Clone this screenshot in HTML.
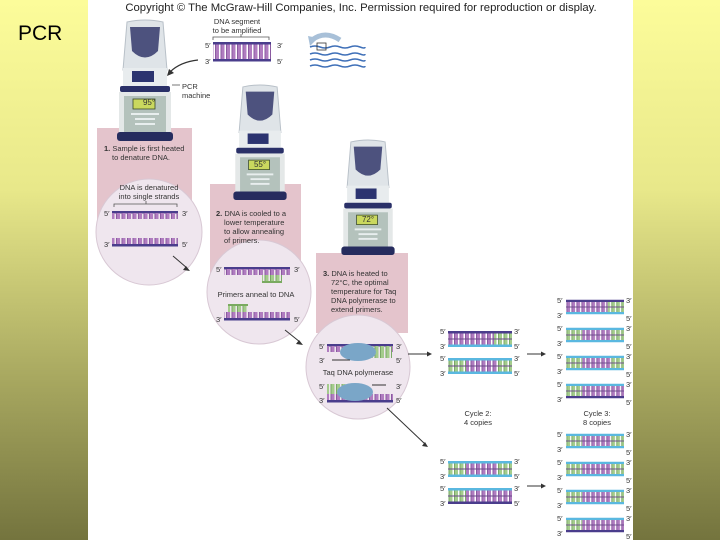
<!DOCTYPE html>
<html><head><meta charset="utf-8"><style>
html,body{margin:0;padding:0;}
body{width:720px;height:540px;overflow:hidden;background:linear-gradient(#fcfc9a 0%,#e8e88a 35%,#a8a860 70%,#74743e 100%);font-family:"Liberation Sans",sans-serif;position:relative;}
#pcr{position:absolute;left:18px;top:22px;font-size:21px;color:#000;}
svg{position:absolute;left:0;top:0;}
text{font-family:"Liberation Sans",sans-serif;}
</style></head><body>
<div id="pcr">PCR</div>
<svg width="720" height="540" viewBox="0 0 720 540">
<defs>
<pattern id="rp" width="5.5" height="20" patternUnits="userSpaceOnUse"><rect x="0.5" y="0" width="4" height="20" fill="#b07cc0"/><rect x="0.5" y="0" width="1" height="20" fill="#8a5aa0"/></pattern>
<pattern id="rg" width="5.5" height="20" patternUnits="userSpaceOnUse"><rect x="0.5" y="0" width="4" height="20" fill="#a4cc8c"/><rect x="0.5" y="0" width="1" height="20" fill="#7aa866"/></pattern>
<symbol id="dupA" viewBox="0 0 64 16" overflow="visible">
<rect x="0" y="2" width="46" height="12" fill="url(#rp)"/><rect x="46" y="2" width="18" height="12" fill="url(#rg)"/>
<rect x="0" y="7.5" width="64" height="1" fill="#6a4a8a"/>
<rect x="0" y="0" width="64" height="2.5" fill="#4a3d8c"/><rect x="0" y="13.5" width="64" height="2.5" fill="#5ab8e0"/>
</symbol>
<symbol id="dupB" viewBox="0 0 64 16" overflow="visible">
<rect x="0" y="2" width="18" height="12" fill="url(#rg)"/><rect x="18" y="2" width="32" height="12" fill="url(#rp)"/><rect x="50" y="2" width="14" height="12" fill="url(#rg)"/>
<rect x="0" y="7.5" width="64" height="1" fill="#6a4a8a"/>
<rect x="0" y="0" width="64" height="2.5" fill="#5ab8e0"/><rect x="0" y="13.5" width="64" height="2.5" fill="#5ab8e0"/>
</symbol>
<symbol id="dupC" viewBox="0 0 64 16" overflow="visible">
<rect x="0" y="2" width="18" height="12" fill="url(#rg)"/><rect x="18" y="2" width="46" height="12" fill="url(#rp)"/>
<rect x="0" y="7.5" width="64" height="1" fill="#6a4a8a"/>
<rect x="0" y="0" width="64" height="2.5" fill="#5ab8e0"/><rect x="0" y="13.5" width="64" height="2.5" fill="#4a3d8c"/>
</symbol>
<symbol id="mach" viewBox="0 0 56 122" overflow="visible">
<path d="M10 2 Q28 -2 46 2 L50 50 L6 50 Z" fill="#dfe4e8" stroke="#b8c0c8" stroke-width="1"/>
<path d="M13 7 L43 7 L41 31 Q28 44 15 31 Z" fill="#4d527e"/>
<rect x="6" y="48" width="44" height="18" fill="#e8ecee"/>
<rect x="15" y="51" width="22" height="11" fill="#2c3470"/>
<rect x="3" y="66" width="50" height="6" rx="2" fill="#2a3068"/>
<rect x="2" y="72" width="52" height="42" fill="#e4e8e8"/>
<rect x="7" y="76" width="42" height="36" fill="#b4c2bc"/>
<rect x="16" y="79" width="22" height="10" fill="#cad85e" stroke="#3a4a2a" stroke-width="0.8"/>
<rect x="14" y="93" width="28" height="2" fill="#e8eeee"/><rect x="18" y="98" width="20" height="2" fill="#e8eeee"/><rect x="18" y="103" width="20" height="2" fill="#e8eeee"/>
<rect x="0" y="112" width="56" height="9" rx="3" fill="#262c5e"/>
</symbol>
</defs>
<rect x="88" y="0" width="545" height="540" fill="#fff"/>
<text x="361" y="11" font-size="11.3" text-anchor="middle" fill="#222">Copyright © The McGraw-Hill Companies, Inc. Permission required for reproduction or display.</text>
<rect x="97" y="128" width="95" height="110" fill="#e4c4cc"/>
<rect x="210" y="184" width="91" height="100" fill="#e4c4cc"/>
<rect x="316" y="253" width="92" height="80" fill="#e4c4cc"/>
<circle cx="149" cy="232" r="53" fill="#efe6ee" stroke="#d8c8d4"/>
<circle cx="259" cy="292" r="52" fill="#efe6ee" stroke="#d8c8d4"/>
<circle cx="358" cy="367" r="52" fill="#efe6ee" stroke="#d8c8d4"/>
<use href="#mach" x="117" y="20" width="56" height="122"/>
<use href="#mach" x="232" y="85" width="56" height="116"/>
<use href="#mach" x="340" y="140" width="56" height="116"/>
<text x="149" y="105" font-size="8" text-anchor="middle" fill="#333">95°</text>
<text x="260" y="167" font-size="8" text-anchor="middle" fill="#333">55°</text>
<text x="368" y="222" font-size="8" text-anchor="middle" fill="#333">72°</text>
<text x="237" y="24" font-size="7.5" text-anchor="middle" fill="#333">DNA segment</text>
<text x="237" y="33" font-size="7.5" text-anchor="middle" fill="#333">to be amplified</text>
<path d="M213 40 V37 H269 V40 M241 37 V34" stroke="#555" fill="none" stroke-width="0.8"/>
<rect x="213" y="43" width="58" height="18" fill="url(#rp)"/>
<rect x="213" y="42" width="58" height="2.5" fill="#4a3d8c"/><rect x="213" y="59" width="58" height="2.5" fill="#4a3d8c"/>
<text x="205" y="48" font-size="7.5" fill="#333">5′</text><text x="277" y="48" font-size="7.5" fill="#333">3′</text>
<text x="205" y="64" font-size="7.5" fill="#333">3′</text><text x="277" y="64" font-size="7.5" fill="#333">5′</text>
<path d="M340 40 Q325 30 312 40" stroke="#a8c0d8" stroke-width="5" fill="none"/>
<path d="M310 46 l-2 -10 l10 2 z" fill="#a8c0d8"/>
<g stroke="#3f70b8" stroke-width="1.5" fill="none">
<path d="M310 47 q5 -2 10 0 t10 0 t10 0 t10 0 t10 0 t5 0"/>
<path d="M310 54 q5 -2 10 0 t10 0 t10 0 t10 0 t10 0 t5 0"/>
<path d="M310 60 q5 -2 10 0 t10 0 t10 0 t10 0 t10 0 t5 0"/>
<path d="M310 66 q5 -2 10 0 t10 0 t10 0 t10 0 t10 0 t5 0"/>
</g>
<rect x="317" y="43" width="9" height="7" fill="none" stroke="#333" stroke-width="0.8"/>
<path d="M198 60 Q180 62 170 72" stroke="#333" stroke-width="1.2" fill="none"/><path d="M167 76 l2 -7 l5 4 z" fill="#333"/>
<line x1="172" y1="85" x2="180" y2="85" stroke="#555" stroke-width="0.8"/>
<text x="182" y="89" font-size="7.5" fill="#333">PCR</text><text x="182" y="98" font-size="7.5" fill="#333">machine</text>
<g font-size="7.5" fill="#333">
<text x="104" y="151"><tspan font-weight="bold">1.</tspan> Sample is first heated</text><text x="112" y="160">to denature DNA.</text>
<text x="216" y="216"><tspan font-weight="bold">2.</tspan> DNA is cooled to a</text><text x="224" y="225">lower temperature</text><text x="224" y="234">to allow annealing</text><text x="224" y="243">of primers.</text>
<text x="323" y="276"><tspan font-weight="bold">3.</tspan> DNA is heated to</text><text x="331" y="285">72°C, the optimal</text><text x="331" y="294">temperature for Taq</text><text x="331" y="303">DNA polymerase to</text><text x="331" y="312">extend primers.</text>
</g>
<text x="149" y="190" font-size="7.5" text-anchor="middle" fill="#333">DNA is denatured</text>
<text x="149" y="199" font-size="7.5" text-anchor="middle" fill="#333">into single strands</text>
<path d="M114 207 V204 H177 V207 M146 204 V201" stroke="#555" fill="none" stroke-width="0.8"/>
<rect x="112" y="211" width="66" height="2.5" fill="#4a3d8c"/><rect x="112" y="213" width="66" height="6" fill="url(#rp)"/>
<rect x="112" y="238" width="66" height="6" fill="url(#rp)"/><rect x="112" y="244" width="66" height="2.5" fill="#4a3d8c"/>
<g font-size="7.5" fill="#333"><text x="104" y="216">5′</text><text x="182" y="216">3′</text><text x="104" y="247">3′</text><text x="182" y="247">5′</text></g>
<line x1="173" y1="256" x2="187" y2="268" stroke="#333" stroke-width="1"/><path d="M190 271 l-7 -1 l3 -4 z" fill="#333"/>
<rect x="224" y="267" width="66" height="2.5" fill="#4a3d8c"/><rect x="224" y="269" width="66" height="6" fill="url(#rp)"/>
<rect x="262" y="275" width="20" height="6" fill="url(#rg)"/><rect x="262" y="281" width="20" height="2" fill="#7aaa60"/>
<text x="256" y="297" font-size="7.5" text-anchor="middle" fill="#333">Primers anneal to DNA</text>
<rect x="228" y="304" width="20" height="2" fill="#7aaa60"/><rect x="228" y="306" width="20" height="6" fill="url(#rg)"/>
<rect x="224" y="312" width="66" height="6" fill="url(#rp)"/><rect x="224" y="318" width="66" height="2.5" fill="#4a3d8c"/>
<g font-size="7.5" fill="#333"><text x="216" y="272">5′</text><text x="294" y="272">3′</text><text x="216" y="322">3′</text><text x="294" y="322">5′</text></g>
<line x1="285" y1="330" x2="300" y2="342" stroke="#333" stroke-width="1"/><path d="M303 345 l-7 -1 l3 -4 z" fill="#333"/>
<rect x="327" y="344" width="66" height="2.5" fill="#4a3d8c"/><rect x="327" y="346" width="66" height="6" fill="url(#rp)"/><rect x="370" y="346" width="22" height="12" fill="url(#rg)"/>
<ellipse cx="358" cy="352" rx="18" ry="9" fill="#7aa6c8"/>
<line x1="350" y1="360" x2="332" y2="360" stroke="#333" stroke-width="1"/>
<text x="358" y="375" font-size="7.5" text-anchor="middle" fill="#333">Taq DNA polymerase</text>
<rect x="327" y="384" width="22" height="10" fill="url(#rg)"/><rect x="327" y="394" width="66" height="6" fill="url(#rp)"/><rect x="327" y="400" width="66" height="2.5" fill="#4a3d8c"/>
<ellipse cx="355" cy="392" rx="18" ry="9" fill="#7aa6c8"/>
<line x1="372" y1="385" x2="386" y2="385" stroke="#333" stroke-width="1"/>
<g font-size="7.5" fill="#333"><text x="319" y="349">5′</text><text x="396" y="349">3′</text><text x="319" y="363">3′</text><text x="396" y="363">5′</text><text x="319" y="389">5′</text><text x="396" y="389">3′</text><text x="319" y="403">3′</text><text x="396" y="403">5′</text></g>
<g stroke="#333" stroke-width="1"><line x1="408" y1="354" x2="428" y2="354"/><line x1="527" y1="354" x2="542" y2="354"/><line x1="387" y1="408" x2="425" y2="444"/><line x1="527" y1="486" x2="542" y2="486"/></g>
<g fill="#333"><path d="M432 354 l-5 -2.5 v5 z"/><path d="M546 354 l-5 -2.5 v5 z"/><path d="M428 447 l-6 -1 l3 -4 z"/><path d="M546 486 l-5 -2.5 v5 z"/></g>
<use href="#dupA" x="448" y="331" width="64" height="16"/>
<use href="#dupB" x="448" y="358" width="64" height="16"/>
<use href="#dupB" x="448" y="461" width="64" height="16"/>
<use href="#dupC" x="448" y="488" width="64" height="16"/>
<g font-size="7.5" fill="#333">
<text x="440" y="334">5′</text><text x="514" y="334">3′</text><text x="440" y="349">3′</text><text x="514" y="349">5′</text>
<text x="440" y="361">5′</text><text x="514" y="361">3′</text><text x="440" y="376">3′</text><text x="514" y="376">5′</text>
<text x="440" y="464">5′</text><text x="514" y="464">3′</text><text x="440" y="479">3′</text><text x="514" y="479">5′</text>
<text x="440" y="491">5′</text><text x="514" y="491">3′</text><text x="440" y="506">3′</text><text x="514" y="506">5′</text>
</g>
<text x="478" y="416" font-size="7.5" text-anchor="middle" fill="#333">Cycle 2:</text><text x="478" y="425" font-size="7.5" text-anchor="middle" fill="#333">4 copies</text>
<text x="597" y="416" font-size="7.5" text-anchor="middle" fill="#333">Cycle 3:</text><text x="597" y="425" font-size="7.5" text-anchor="middle" fill="#333">8 copies</text>
<use href="#dupA" x="566" y="299" width="58" height="16"/>
<use href="#dupB" x="566" y="327" width="58" height="16"/>
<use href="#dupB" x="566" y="355" width="58" height="16"/>
<use href="#dupC" x="566" y="383" width="58" height="16"/>
<use href="#dupB" x="566" y="433" width="58" height="16"/>
<use href="#dupB" x="566" y="461" width="58" height="16"/>
<use href="#dupB" x="566" y="489" width="58" height="16"/>
<use href="#dupC" x="566" y="517" width="58" height="16"/>
<g font-size="7.5" fill="#333">
<text x="557" y="303">5′</text><text x="626" y="303">3′</text><text x="557" y="318">3′</text><text x="626" y="321">5′</text>
<text x="557" y="331">5′</text><text x="626" y="331">3′</text><text x="557" y="346">3′</text><text x="626" y="349">5′</text>
<text x="557" y="359">5′</text><text x="626" y="359">3′</text><text x="557" y="374">3′</text><text x="626" y="377">5′</text>
<text x="557" y="387">5′</text><text x="626" y="387">3′</text><text x="557" y="402">3′</text><text x="626" y="405">5′</text>
<text x="557" y="437">5′</text><text x="626" y="437">3′</text><text x="557" y="452">3′</text><text x="626" y="455">5′</text>
<text x="557" y="465">5′</text><text x="626" y="465">3′</text><text x="557" y="480">3′</text><text x="626" y="483">5′</text>
<text x="557" y="493">5′</text><text x="626" y="493">3′</text><text x="557" y="508">3′</text><text x="626" y="511">5′</text>
<text x="557" y="521">5′</text><text x="626" y="521">3′</text><text x="557" y="536">3′</text><text x="626" y="539">5′</text>
</g>
</svg>
</body></html>
